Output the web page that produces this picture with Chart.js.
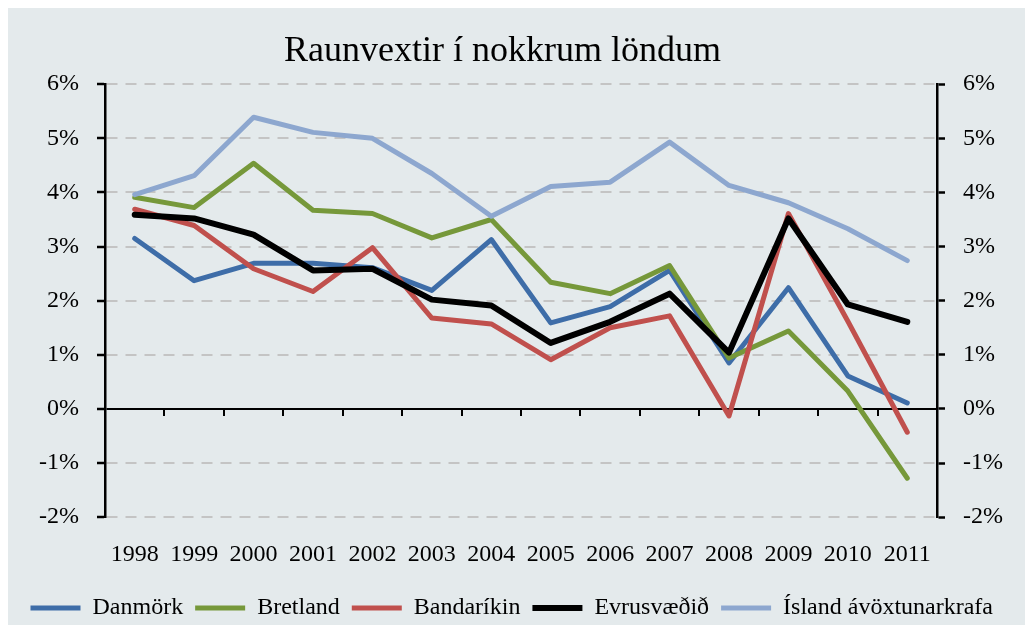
<!DOCTYPE html>
<html>
<head>
<meta charset="utf-8">
<script src="https://cdn.jsdelivr.net/npm/chart.js@4.4.1/dist/chart.umd.min.js"></script>
<style>
  html, body { margin: 0; padding: 0; background: #ffffff; }
  #wrap { position: relative; width: 1029px; height: 630px; }
</style>
</head>
<body>
<div id="wrap"><canvas id="raunvextir"></canvas></div>
<script>
// ár
const ar = ["1998", "1999", "2000", "2001", "2002", "2003", "2004",
            "2005", "2006", "2007", "2008", "2009", "2010", "2011"];

// raunvextir í % (lesið af myndinni)
const danmork = [3.15, 2.37, 2.69, 2.69, 2.61, 2.19, 3.13, 1.59, 1.89, 2.56, 0.85, 2.24, 0.61, 0.11];
const bretland = [3.91, 3.72, 4.54, 3.67, 3.61, 3.16, 3.50, 2.34, 2.13, 2.65, 0.94, 1.44, 0.33, -1.28];
const bandarikin = [3.69, 3.39, 2.59, 2.17, 2.98, 1.68, 1.57, 0.91, 1.50, 1.72, -0.13, 3.61, 1.62, -0.43];
const evrusvaedid = [3.59, 3.52, 3.22, 2.56, 2.59, 2.02, 1.91, 1.22, 1.61, 2.13, 1.04, 3.52, 1.93, 1.61];
const island = [3.96, 4.31, 5.39, 5.11, 5.00, 4.35, 3.56, 4.11, 4.19, 4.93, 4.13, 3.81, 3.33, 2.74];

const yMin = -2;
const yMax = 6;

const leturgerd = "'Liberation Serif', 'Times New Roman', serif";

function lina(label, data, color, width, order) {
  return {
    label: label,
    data: data,
    borderColor: color,
    backgroundColor: color,
    borderWidth: width,
    pointRadius: 0,
    pointHoverRadius: 0,
    tension: 0,
    fill: false,
    borderJoinStyle: "round",
    borderCapStyle: "round",
    order: order,
  };
}

// grár bakgrunnur
const bakgrunnur = {
  id: "bakgrunnur",
  beforeDraw: (chart) => {
    const ctx = chart.ctx;
    ctx.save();
    ctx.fillStyle = "#e4eaec";
    ctx.fillRect(8, 8, chart.width - 12, chart.height - 13);
    ctx.restore();
  },
};

// strik niður úr 0-línunni á milli ára
const nullStrik = {
  id: "nullStrik",
  beforeDatasetsDraw: (chart) => {
    const x = chart.scales.x;
    const y0 = chart.scales.y.getPixelForValue(0);
    const ctx = chart.ctx;
    ctx.save();
    ctx.strokeStyle = "#000";
    ctx.lineWidth = 2;
    ctx.beginPath();
    for (let i = 0; i <= ar.length; i++) {
      const px = Math.round(x.getPixelForValue(i - 0.5));
      ctx.moveTo(px, y0);
      ctx.lineTo(px, y0 + 7);
    }
    ctx.stroke();
    ctx.restore();
  },
};

const ctx = document.getElementById("raunvextir").getContext("2d");
const chart_raunvextir = new Chart(ctx, {
  type: "line",
  data: {
    labels: ar,
    datasets: [
      lina("Danmörk", danmork, "#3e6da8", 5, 5),
      lina("Bretland", bretland, "#76983a", 5, 4),
      lina("Bandaríkin", bandarikin, "#c0504d", 5, 3),
      lina("Evrusvæðið", evrusvaedid, "#000000", 6, 2),
      lina("Ísland ávöxtunarkrafa", island, "#8da7cf", 5, 1),
    ],
  },
  options: {
    responsive: true,
    maintainAspectRatio: false,
    animation: false,
    layout: {
      padding: { left: 0, right: 24, top: 0, bottom: 0 },
    },
    plugins: {
      title: {
        display: true,
        text: "Raunvextir í nokkrum löndum",
        color: "#000",
        font: { family: leturgerd, size: 36, weight: "normal" },
        padding: { top: 30, bottom: 11 },
      },
      legend: {
        position: "bottom",
        align: "end",
        labels: {
          color: "#000",
          font: { family: leturgerd, size: 24 },
          usePointStyle: true,
          pointStyle: "line",
          pointStyleWidth: 50,
          padding: 12,
          sort: (a, b) => a.datasetIndex - b.datasetIndex,
        },
      },
      tooltip: { enabled: false },
    },
    scales: {
      x: {
        offset: true,
        grid: { display: false },
        border: { display: false },
        ticks: {
          color: "#000",
          font: { family: leturgerd, size: 24 },
          padding: 15,
          maxRotation: 0,
        },
      },
      y: {
        position: "left",
        min: yMin,
        max: yMax,
        afterFit: (scale) => {
          scale.width = 105;
        },
        ticks: {
          stepSize: 1,
          color: "#000",
          padding: 18,
          font: { family: leturgerd, size: 24 },
          callback: (v) => v + "%",
        },
        grid: {
          color: (c) => (c.tick && c.tick.value === 0 ? "#000" : "#c4c4c4"),
          lineWidth: 2,
          tickColor: "#000",
          tickLength: 8,
          tickWidth: 2.5,
        },
        border: {
          color: "#000",
          width: 2.5,
          dash: (c) => (c.tick && c.tick.value === 0 ? [] : [11, 8]),
        },
      },
      y2: {
        position: "right",
        min: yMin,
        max: yMax,
        afterFit: (scale) => {
          scale.width = 68;
        },
        ticks: {
          stepSize: 1,
          color: "#000",
          padding: 18,
          font: { family: leturgerd, size: 24 },
          callback: (v) => v + "%",
        },
        grid: {
          drawOnChartArea: false,
          tickColor: "#000",
          tickLength: 8,
          tickWidth: 2.5,
        },
        border: { color: "#000", width: 2.5 },
      },
    },
  },
  plugins: [bakgrunnur, nullStrik],
});
</script>
</body>
</html>
